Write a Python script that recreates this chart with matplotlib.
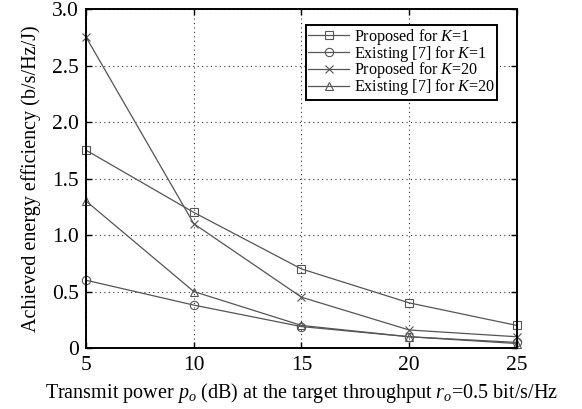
import numpy as np
from matplotlib import pyplot as plt

plt.rcParams["font.family"] = "Liberation Serif"
plt.rcParams["mathtext.fontset"] = "custom"
plt.rcParams["mathtext.it"] = "Liberation Serif:italic"
plt.rcParams["mathtext.rm"] = "Liberation Serif"

power_db = [5, 10, 15, 20, 25]
proposed_k1 = [1.75, 1.2, 0.7, 0.4, 0.2]
existing_k1 = [0.6, 0.38, 0.19, 0.1, 0.05]
proposed_k20 = [2.75, 1.1, 0.45, 0.16, 0.1]
existing_k20 = [1.3, 0.5, 0.2, 0.1, 0.04]

labels = [
    "Proposed for $K$=1",
    "Existing [7] for $K$=1",
    "Proposed for $K$=20",
    "Existing [7] for $K$=20",
]
markers = ["s", "o", "x", "^"]
series = [proposed_k1, existing_k1, proposed_k20, existing_k20]

fig = plt.figure(figsize=(5.82, 4.09), dpi=100)
ax = fig.add_axes([0.148, 0.149, 0.740, 0.829])

line_color = "#555555"
for vals, m, lab in zip(series, markers, labels):
    ax.plot(power_db, vals, color=line_color, lw=0.9, marker=m,
            markersize=6, markerfacecolor="none", markeredgecolor=line_color,
            markeredgewidth=0.8, label=lab, clip_on=False)

ax.set_xlim(5, 25)
ax.set_ylim(0, 3.0)
ax.set_xticks([5, 10, 15, 20, 25])
ax.set_yticks([0, 0.5, 1.0, 1.5, 2.0, 2.5, 3.0])
ax.set_yticklabels(["0", "0.5", "1.0", "1.5", "2.0", "2.5", "3.0"])
ax.tick_params(direction="in", labelsize=15.5, top=True, right=True, length=4, width=1.0)
ax.tick_params(axis="x", pad=6)
ax.tick_params(axis="y", pad=5)
ax.grid(True, linestyle=(0, (1, 3)), color="#333333", lw=0.8)
for s in ax.spines.values():
    s.set_linewidth(1.4)

ax.set_xlabel("Transmit power $p_o$ (dB) at the target throughput $r_o$=0.5 bit/s/Hz",
              fontsize=14.5, labelpad=4)
ax.set_ylabel("Achieved energy efficiency (b/s/Hz/J)", fontsize=14.5, labelpad=8)

leg = ax.legend(loc="upper right", fontsize=11.6, fancybox=False, framealpha=1,
                edgecolor="black", handlelength=2.5, borderpad=0.15,
                labelspacing=-0.2, handletextpad=0.3, bbox_to_anchor=(0.972, 0.978))
leg.get_frame().set_linewidth(1.4)

fig.savefig("out.png", dpi=100)
